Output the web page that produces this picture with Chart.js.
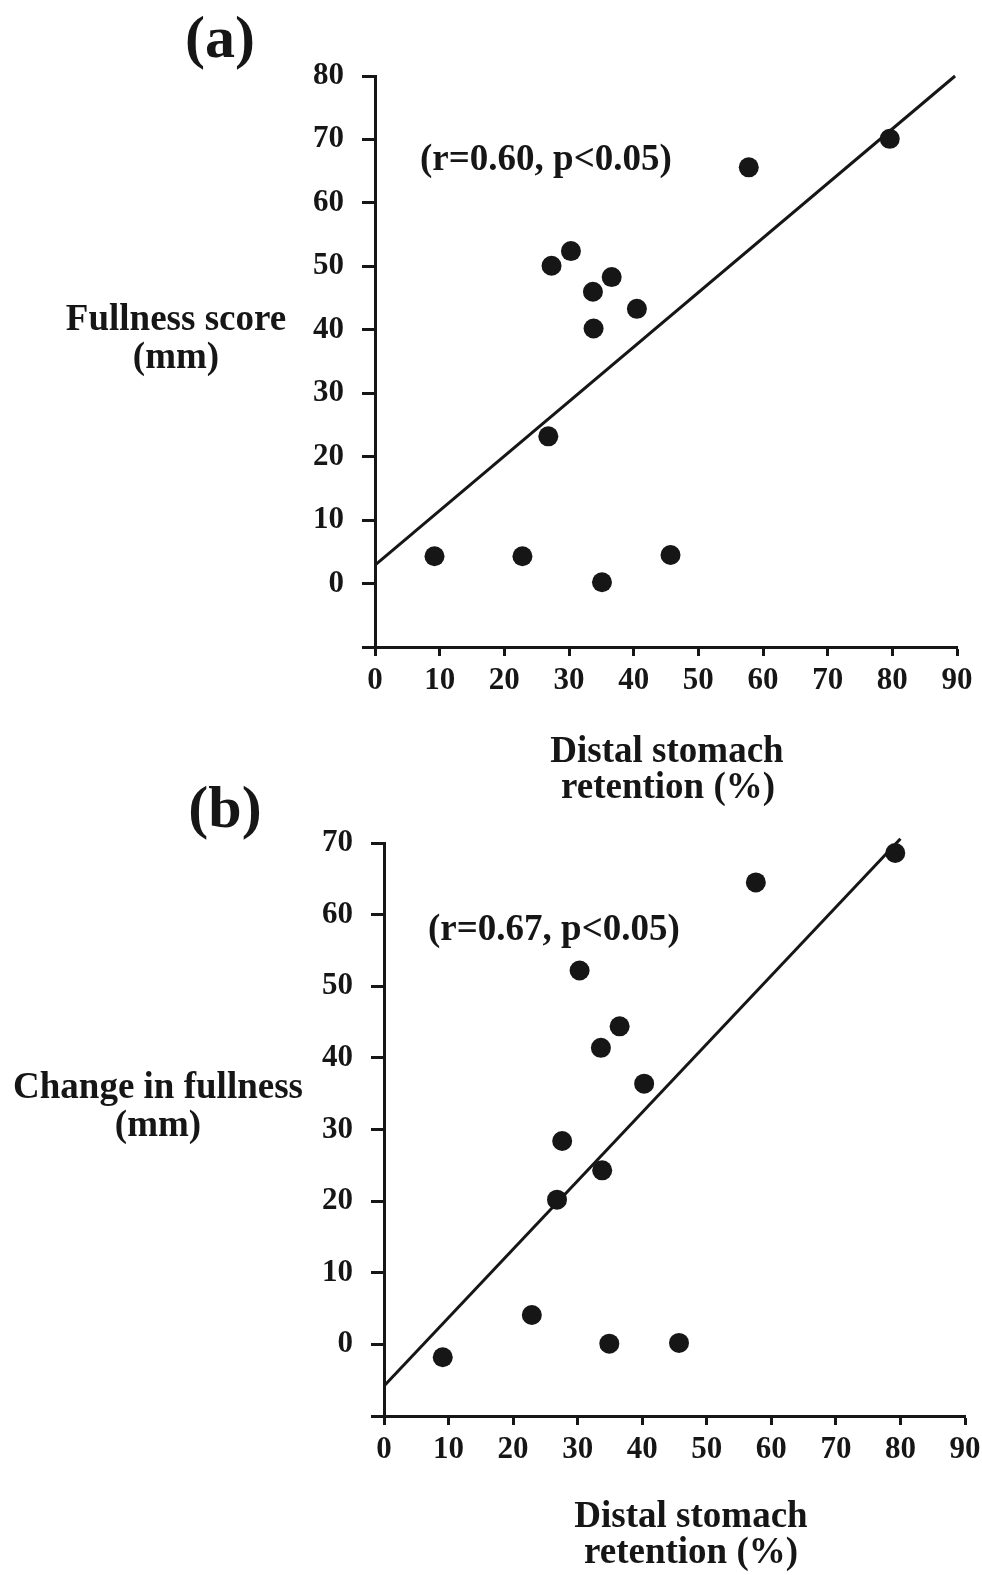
<!DOCTYPE html>
<html>
<head>
<meta charset="utf-8">
<title>Fullness vs distal stomach retention</title>
<script src="https://cdn.jsdelivr.net/npm/chart.js@4.4.1/dist/chart.umd.min.js"></script>
<style>
  html, body { margin: 0; padding: 0; background: #fff; overflow: hidden; }
  #page { position: relative; width: 982px; height: 1575px; overflow: hidden; }
  canvas { position: absolute; left: 0; }
</style>
</head>
<body>
<div id="page">
  <canvas id="chartA" width="1000" height="810" style="top:0"></canvas>
  <canvas id="chartB" width="1000" height="805" style="top:770px"></canvas>
</div>
<script>
// (a) fullness score against distal stomach retention
const retentionA = [9.2, 22.8, 35.1, 45.7, 26.8, 27.3, 30.3, 33.7, 36.6, 33.8, 40.5, 57.8, 79.6];
const fullnessA  = [4.3, 4.3, 0.2, 4.5, 23.2, 50.1, 52.4, 46.0, 48.3, 40.2, 43.3, 65.6, 70.1];
const fitLineA   = [[0, 2.9], [89.7, 80]];

// (b) change in fullness against distal stomach retention
const retentionB = [9.1, 22.9, 34.9, 45.7, 26.8, 27.6, 33.8, 30.3, 33.6, 36.5, 40.3, 57.6, 79.2];
const changeB    = [-1.8, 4.1, 0.1, 0.2, 20.2, 28.4, 24.3, 52.2, 41.4, 44.4, 36.4, 64.5, 68.6];
const fitLineB   = [[0, -5.8], [80, 70.6]];

const xTicks = [0, 10, 20, 30, 40, 50, 60, 70, 80, 90];
const yTicksA = [0, 10, 20, 30, 40, 50, 60, 70, 80];
const yTicksB = [0, 10, 20, 30, 40, 50, 60, 70];

const ink = '#161616';
const serif = "'Liberation Serif', 'Times New Roman', serif";
Chart.defaults.font.family = serif;
Chart.defaults.color = ink;

const toPoints = (xs, ys) => xs.map((x, i) => ({ x: x, y: ys[i] }));

// free text: panel letter, axis titles, correlation note
const captions = {
  id: 'captions',
  afterDraw(chart, args, opts) {
    const ctx = chart.ctx;
    ctx.save();
    ctx.fillStyle = ink;
    ctx.textBaseline = 'alphabetic';
    opts.items.forEach(it => {
      ctx.font = 'bold ' + it.size + 'px ' + serif;
      ctx.textAlign = it.align || 'center';
      ctx.fillText(it.text, it.x, it.y);
    });
    ctx.restore();
  }
};

function makeChart(id, xs, ys, fit, yMax, yTicks, area, items) {
  const canvas = document.getElementById(id);
  const xAxisHeight = 70;
  return new Chart(canvas, {
    data: {
      datasets: [
        {
          type: 'scatter',
          data: toPoints(xs, ys),
          pointRadius: 10,
          pointHoverRadius: 10,
          backgroundColor: ink,
          borderWidth: 0
        },
        {
          type: 'line',
          data: fit.map(p => ({ x: p[0], y: p[1] })),
          borderColor: ink,
          borderWidth: 3,
          pointRadius: 0,
          fill: false,
          clip: false
        }
      ]
    },
    options: {
      responsive: false,
      animation: false,
      layout: {
        padding: {
          left: 0,
          top: area.top,
          right: canvas.width - area.right,
          bottom: canvas.height - area.bottom - xAxisHeight
        }
      },
      plugins: {
        legend: { display: false },
        tooltip: { enabled: false },
        captions: { items: items }
      },
      scales: {
        x: {
          type: 'linear',
          min: 0,
          max: 90,
          afterBuildTicks: s => { s.ticks = xTicks.map(v => ({ value: v })); },
          afterFit: s => { s.height = xAxisHeight; },
          ticks: { padding: 6, color: ink, font: { size: 31, weight: 'bold' } },
          grid: { drawOnChartArea: false, drawTicks: true, tickLength: 9, tickWidth: 3, tickColor: ink },
          border: { color: ink, width: 3 }
        },
        y: {
          type: 'linear',
          min: -10,
          max: yMax,
          afterBuildTicks: s => { s.ticks = [-10].concat(yTicks).map(v => ({ value: v })); },
          afterFit: s => { s.width = area.left; },
          ticks: {
            padding: 18,
            color: ink,
            font: { size: 31, weight: 'bold' },
            callback: v => (v < 0 ? '' : v)
          },
          grid: { drawOnChartArea: false, drawTicks: true, tickLength: 13, tickWidth: 3, tickColor: ink },
          border: { color: ink, width: 3 }
        }
      }
    },
    plugins: [captions]
  });
}

makeChart('chartA', retentionA, fullnessA, fitLineA, 80, yTicksA,
  { left: 375, top: 76, right: 957, bottom: 647 },
  [
    { text: '(a)', size: 60, x: 220, y: 57 },
    { text: 'Fullness score', size: 37, x: 176, y: 330 },
    { text: '(mm)', size: 37, x: 176, y: 368 },
    { text: 'Distal stomach', size: 37, x: 667, y: 762 },
    { text: 'retention (%)', size: 37, x: 668, y: 798 },
    { text: '(r=0.60, p<0.05)', size: 37, x: 420, y: 170, align: 'left' }
  ]);

makeChart('chartB', retentionB, changeB, fitLineB, 70, yTicksB,
  { left: 384, top: 73, right: 965, bottom: 646 },
  [
    { text: '(b)', size: 60, x: 225, y: 57 },
    { text: 'Change in fullness', size: 37, x: 158, y: 328 },
    { text: '(mm)', size: 37, x: 158, y: 366 },
    { text: 'Distal stomach', size: 37, x: 691, y: 757 },
    { text: 'retention (%)', size: 37, x: 691, y: 793 },
    { text: '(r=0.67, p<0.05)', size: 37, x: 428, y: 170, align: 'left' }
  ]);
</script>
</body>
</html>
